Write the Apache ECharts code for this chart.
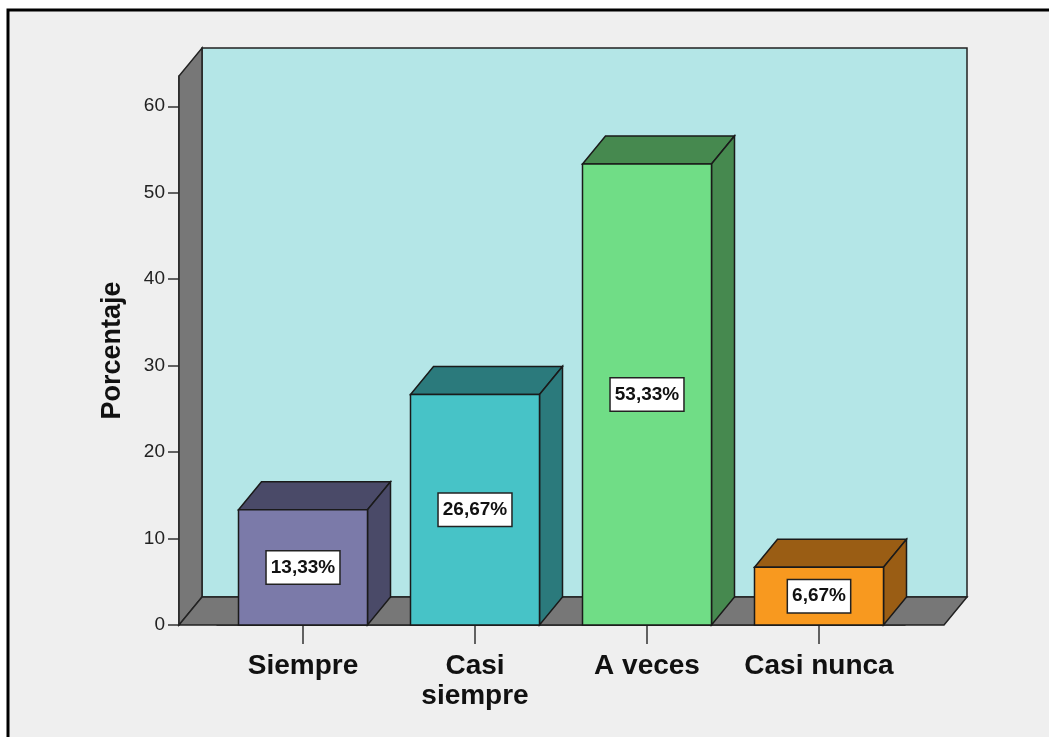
<!DOCTYPE html>
<html>
<head>
<meta charset="utf-8">
<script src="https://cdn.jsdelivr.net/npm/echarts@6/dist/echarts.min.js"></script>
<style>
  html, body { margin: 0; padding: 0; background: #ffffff; }
  #chart { width: 1049px; height: 737px; }
</style>
</head>
<body>
<div id="chart"></div>
<script>
// data
const categories = ['Siempre', 'Casi\nsiempre', 'A veces', 'Casi nunca'];
const percentages = [13.33, 26.67, 53.33, 6.67];
const yTicks = [0, 10, 20, 30, 40, 50, 60];

// styles
const frontColors = ['#7b7aa9', '#47c3c7', '#70dd86', '#f8991f'];
const darkColors = ['#4a4a68', '#2b7a7c', '#46894f', '#9a5d14'];
const DX = 23, DY = 28;      // depth of the 3d look
const PAD_L = 38, PAD_R = 39; // floor overhang past the category bands
const FONT = '"Liberation Sans", Arial, sans-serif';

function fmt(v) {
  return v.toFixed(2).replace('.', ',') + '%';
}

const chart = echarts.init(document.getElementById('chart'));

chart.setOption({
  animation: false,
  graphic: [{
    type: 'rect',
    z: -10,
    shape: {x: 8, y: 10, width: 1200, height: 900},
    style: {fill: '#efefef', stroke: '#000', lineWidth: 3}
  }],
  grid: {left: 217, right: 144, top: 76, bottom: 112},
  xAxis: {
    type: 'category',
    data: categories,
    axisLine: {show: true, lineStyle: {color: '#222', width: 1.5}},
    axisTick: {show: true, interval: 0, alignWithLabel: true, length: 19, lineStyle: {color: '#333', width: 1.5}},
    axisLabel: {
      interval: 0, hideOverlap: false,
      margin: 26, fontSize: 28, fontWeight: 'bold', color: '#111',
      fontFamily: FONT, lineHeight: 30
    }
  },
  yAxis: {
    type: 'value',
    min: 0,
    max: 63.5,
    interval: 10,
    offset: PAD_L,
    name: 'Porcentaje',
    nameLocation: 'middle',
    nameRotate: 90,
    nameGap: 53,
    nameTextStyle: {fontSize: 27, fontWeight: 'bold', color: '#111', fontFamily: FONT},
    splitLine: {show: false},
    axisLine: {show: true, lineStyle: {color: '#222', width: 1.5}},
    axisTick: {show: true, length: 11, customValues: yTicks, lineStyle: {color: '#333', width: 1.5}},
    axisLabel: {
      customValues: yTicks, margin: 14, fontSize: 19, color: '#222', fontFamily: FONT
    }
  },
  series: [
    {
      // walls and floor
      type: 'custom',
      z: 1,
      silent: true,
      clip: false,
      data: [[0, 0]],
      renderItem: function (params, api) {
        const cs = params.coordSys;
        const fy = cs.y + cs.height, ty = cs.y;
        const lx = cs.x - PAD_L, rx = cs.x + cs.width + PAD_R;
        const stroke = {stroke: '#222', lineWidth: 1.5};
        return {
          type: 'group',
          children: [
            {type: 'rect', shape: {x: lx + DX, y: ty - DY, width: rx - lx, height: fy - ty},
              style: Object.assign({fill: '#b4e6e7'}, stroke)},
            {type: 'polygon', shape: {points: [[lx, fy], [lx, ty], [lx + DX, ty - DY], [lx + DX, fy - DY]]},
              style: Object.assign({fill: '#777777'}, stroke)},
            {type: 'polygon', shape: {points: [[lx, fy], [rx, fy], [rx + DX, fy - DY], [lx + DX, fy - DY]]},
              style: Object.assign({fill: '#777777'}, stroke)}
          ]
        };
      }
    },
    {
      type: 'custom',
      z: 3,
      data: percentages.map((v, i) => [i, v]),
      renderItem: function (params, api) {
        const i = params.dataIndex;
        const v = api.value(1);
        const base = api.coord([api.value(0), 0]);
        const top = api.coord([api.value(0), v]);
        const w = api.size([1, 0])[0] * 0.75;
        const x0 = base[0] - w / 2, x1 = base[0] + w / 2;
        const ty = top[1], by = base[1];
        const stroke = {stroke: '#1a1a1a', lineWidth: 1.5};
        return {
          type: 'group',
          children: [
            {type: 'polygon', shape: {points: [[x0, ty], [x1, ty], [x1 + DX, ty - DY], [x0 + DX, ty - DY]]},
              style: Object.assign({fill: darkColors[i]}, stroke)},
            {type: 'polygon', shape: {points: [[x1, ty], [x1 + DX, ty - DY], [x1 + DX, by - DY], [x1, by]]},
              style: Object.assign({fill: darkColors[i]}, stroke)},
            {type: 'rect', shape: {x: x0, y: ty, width: w, height: by - ty},
              style: Object.assign({fill: frontColors[i]}, stroke)},
            {type: 'text', x: base[0], y: (ty + by) / 2,
              style: {
                text: fmt(v), align: 'center', verticalAlign: 'middle',
                font: 'bold 19px ' + FONT, fill: '#111',
                backgroundColor: '#fff', borderColor: '#222', borderWidth: 1.5,
                padding: [7, 4, 6, 4]
              }}
          ]
        };
      }
    }
  ]
});
</script>
</body>
</html>
